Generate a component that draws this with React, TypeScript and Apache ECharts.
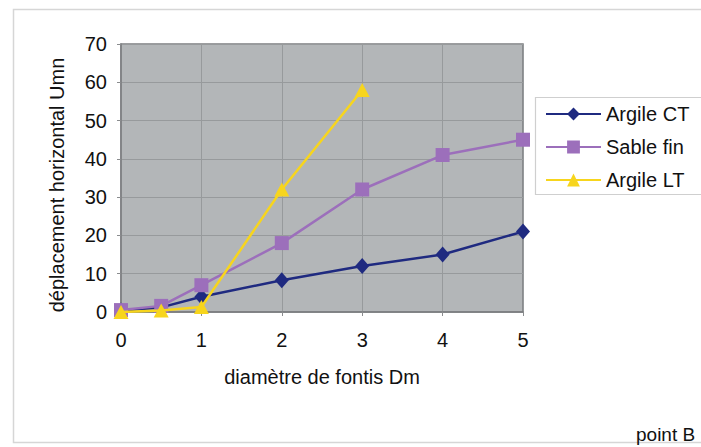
import React, { useEffect, useRef } from "react";
import * as echarts from "echarts";

// Fontis diameter (Dm) on x, horizontal displacement (Umm) on y
const argileCT: [number, number][] = [
  [0, 0.4], [0.5, 1.2], [1, 4], [2, 8.3], [3, 12], [4, 15], [5, 21],
];
const sableFin: [number, number][] = [
  [0, 0.5], [0.5, 1.6], [1, 7], [2, 18], [3, 32], [4, 41], [5, 45],
];
const argileLT: [number, number][] = [
  [0, 0], [0.5, 0.4], [1, 1.3], [2, 32], [3, 58],
];

const seriesNames = ["Argile CT", "Sable fin", "Argile LT"];
const xTitle = "diamètre de fontis Dm";
const yTitle = "déplacement horizontal Umn";
const footnote = "point B";

const FONT = "'Liberation Sans', Arial, Helvetica, sans-serif";

export default function App() {
  const ref = useRef<HTMLDivElement>(null);

  useEffect(() => {
    if (!ref.current) return;
    const chart = echarts.init(ref.current, undefined, { renderer: "svg" });
    chart.setOption({
      animation: false,
      backgroundColor: "#ffffff",
      textStyle: { fontFamily: FONT },
      grid: {
        left: 121,
        right: 178,
        top: 44,
        bottom: 135,
        show: true,
        backgroundColor: "#b3b6b8",
        borderColor: "#7c7e80",
        borderWidth: 1.5,
      },
      xAxis: {
        type: "value",
        min: 0,
        max: 5,
        interval: 1,
        name: xTitle,
        nameLocation: "middle",
        nameGap: 55,
        nameTextStyle: { fontSize: 20, color: "#111", fontFamily: FONT },
        axisLine: { show: true, lineStyle: { color: "#7c7e80", width: 1.5 } },
        axisTick: { show: true, length: 4, lineStyle: { color: "#8a8c8e" } },
        axisLabel: { fontSize: 20, color: "#111", margin: 18, fontFamily: FONT },
        splitLine: { show: true, lineStyle: { color: "#979a9c", width: 1 } },
      },
      yAxis: {
        type: "value",
        min: 0,
        max: 70,
        interval: 10,
        axisLine: { show: true, lineStyle: { color: "#7c7e80", width: 1.5 } },
        axisTick: { show: true, length: 4, lineStyle: { color: "#8a8c8e" } },
        axisLabel: { fontSize: 20, color: "#111", margin: 14, fontFamily: FONT },
        splitLine: { show: true, lineStyle: { color: "#979a9c", width: 1 } },
      },
      legend: {
        orient: "vertical",
        left: 545,
        top: 104,
        itemWidth: 55,
        itemHeight: 16,
        itemGap: 13,
        padding: 0,
        textStyle: { fontSize: 20, color: "#111", fontFamily: FONT },
        data: seriesNames,
      },
      graphic: [
        {
          type: "rect",
          z: -10,
          silent: true,
          shape: { x: 13.5, y: 9.5, width: 720, height: 433 },
          style: { fill: "none", stroke: "#d6d6d6", lineWidth: 1.5 },
        },
        {
          type: "rect",
          z: 0,
          silent: true,
          shape: { x: 535.5, y: 97.5, width: 180, height: 97 },
          style: { fill: "#ffffff", stroke: "#cfcfcf", lineWidth: 1.2 },
        },
        {
          type: "text",
          x: 57,
          y: 185,
          rotation: Math.PI / 2,
          style: {
            text: yTitle,
            fontSize: 20,
            fill: "#111",
            fontFamily: FONT,
            align: "center",
            verticalAlign: "middle",
          },
        },
        {
          type: "text",
          left: 636,
          top: 425,
          style: { text: footnote, fontSize: 19, fill: "#111", fontFamily: FONT },
        },
      ],
      series: [
        {
          name: seriesNames[0],
          type: "line",
          data: argileCT,
          symbol: "diamond",
          symbolSize: [14, 16],
          color: "#1f2a80",
          lineStyle: { width: 2.5, color: "#1f2a80" },
          itemStyle: { color: "#1f2a80" },
          z: 3,
        },
        {
          name: seriesNames[1],
          type: "line",
          data: sableFin,
          symbol: "rect",
          symbolSize: 14,
          color: "#9c6fbb",
          lineStyle: { width: 2.5, color: "#9c6fbb" },
          itemStyle: { color: "#9c6fbb" },
          z: 4,
        },
        {
          name: seriesNames[2],
          type: "line",
          data: argileLT,
          symbol: "triangle",
          symbolSize: [15, 14],
          color: "#f7d51d",
          lineStyle: { width: 2.5, color: "#f7d51d" },
          itemStyle: { color: "#f7d51d" },
          z: 5,
        },
      ],
    });
    return () => chart.dispose();
  }, []);

  return (
    <div
      ref={ref}
      style={{ position: "fixed", left: 0, top: 0, width: 701, height: 447 }}
    />
  );
}
